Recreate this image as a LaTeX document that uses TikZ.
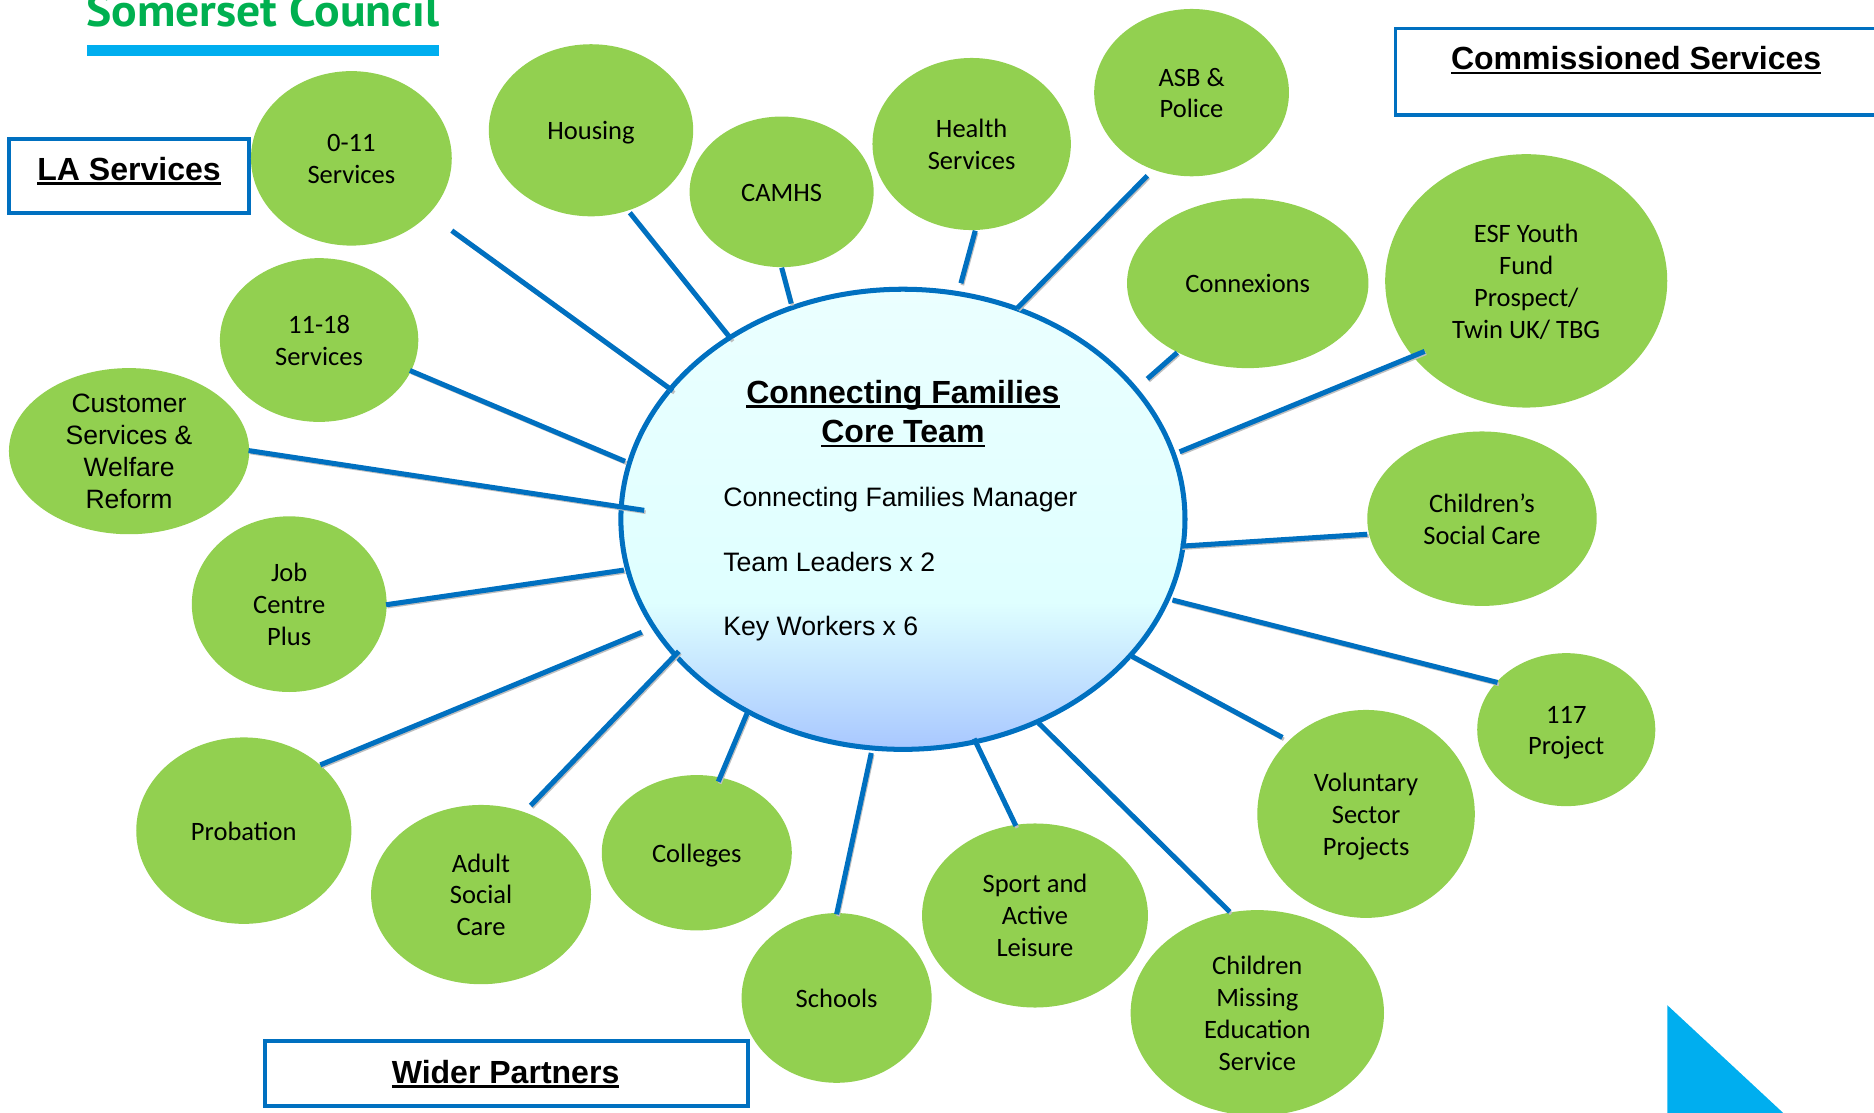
\documentclass[tikz,border=0pt]{standalone}
\usepackage{fontspec}
\setmainfont{Liberation Sans}
\newfontfamily\carlito{Carlito}
\newfontfamily\logofont[FakeStretch=1.05]{PT Sans}
\usetikzlibrary{shapes.geometric}
\definecolor{lineblue}{HTML}{0070C0}
\definecolor{leaf}{HTML}{92D050}
\definecolor{logogreen}{HTML}{00B050}
\definecolor{cyanbar}{HTML}{00AEEF}
\definecolor{coreA}{HTML}{A8C7FF}
\definecolor{coreB}{HTML}{DFFFFF}
\definecolor{coreC}{HTML}{EBFFFF}
\pgfdeclareverticalshading{corefill}{100bp}{color(0bp)=(coreA);color(25bp)=(coreA);color(41bp)=(coreB);color(75bp)=(coreC);color(100bp)=(coreC)}
\newcommand{\myul}[1]{\leavevmode\setbox0=\hbox{#1}\rlap{\rule[-.14em]{\wd0}{.08em}}\box0 }
\newcommand{\bt}[2][7.7pt]{\raisebox{-#1}[0pt][0pt]{\begin{tabular}{@{}c@{}}#2\end{tabular}}}
\tikzset{
  bub/.style n args={2}{ellipse,fill=leaf,inner sep=0pt,outer sep=0pt,minimum width=#1pt,minimum height=#2pt,text=black,font=\carlito\fontsize{22.2}{26.7}\selectfont},
  frame/.style={draw=lineblue,line width=3pt,fill=white},
  heading/.style={font=\bfseries\fontsize{26.8}{32}\selectfont,inner sep=0pt,align=center},
  corerow/.style={font=\fontsize{22.3}{26}\selectfont,inner sep=0pt,anchor=base west},
  conn/.style={draw=lineblue,line width=4.2pt,preaction={draw=black!25,line width=3pt,transform canvas={xshift=1.2pt,yshift=-1.6pt}}}
}
\begin{document}
\begin{tikzpicture}[x=1pt,y=-1pt]
\useasboundingbox (0,0) rectangle (1568,931.2);
% logo
\node[inner sep=0pt,anchor=base west,text=logogreen] (logo) at (72,22.3) {\logofont\bfseries\fontsize{38}{38}\selectfont Somerset Council};
\fill[cyanbar] (72.5,38) rectangle (367,46.6);
\fill[cyanbar] (1395,841) -- (1492,931.2) -- (1395,931.2) -- cycle;
% boxes
\draw[frame] (7.5,116.5) rectangle (208.5,178);
\node[heading] (la) at (108,143) {\myul{LA Services}};
\draw[frame] (1167.5,24) rectangle (1580,96);
\node[heading] (cs) at (1369,50.5) {\myul{Commissioned Services}};
\draw[frame] (221.5,871) rectangle (626,925.5);
\node[heading] (wp) at (423,898.5) {\myul{Wider Partners}};
% core
\node[ellipse,draw=lineblue,line width=4.2pt,shading=corefill,inner sep=0pt,outer sep=0pt,minimum width=472pt,minimum height=385pt] (core) at (755.5,434.5) {};
\node[heading] (t1) at (755.5,330.5) {\myul{Connecting Families}};
\node[heading] (t2) at (755.5,363) {\myul{Core Team}};
\node[corerow] (r1) at (605,424) {Connecting Families Manager};
\node[corerow] (r2) at (605,478) {Team Leaders x 2};
\node[corerow] (r3) at (605,531.5) {Key Workers x 6};
% bubbles
\node[bub={168}{146}] (n011) at (294,132.5) {\bt{0-11\\Services}};
\node[bub={171}{144}] (house) at (494.5,109) {\bt{Housing}};
\node[bub={154}{126}] (camhs) at (654,160.5) {\bt{CAMHS}};
\node[bub={166}{144}] (health) at (813,120.5) {\bt{Health\\Services}};
\node[bub={163}{140}] (asb) at (997,77.5) {\bt{ASB \&\\Police}};
\node[bub={202}{142}] (conx) at (1044,237) {\bt{Connexions}};
\node[bub={236}{212}] (esf) at (1277,235) {\bt{ESF Youth\\Fund\\Prospect/\\Twin UK/ TBG}};
\node[bub={192}{146}] (csc) at (1240,434) {\bt{Children’s\\Social Care}};
\node[bub={149}{128}] (p117) at (1310.5,610.5) {\bt{117\\Project}};
\node[bub={182}{174}] (vol) at (1143,681) {\bt{Voluntary\\Sector\\Projects}};
\node[bub={212}{172}] (cme) at (1052,847.5) {\bt{Children\\Missing\\Education\\Service}};
\node[bub={189}{154}] (sport) at (866,766) {\bt{Sport and\\Active\\Leisure}};
\node[bub={159}{142}] (school) at (700,835) {\bt{Schools}};
\node[bub={159}{130}] (coll) at (583,713.5) {\bt{Colleges}};
\node[bub={184}{150}] (adult) at (402.5,748.5) {\bt{Adult\\Social\\Care}};
\node[bub={180}{156}] (prob) at (204,695) {\bt{Probation}};
\node[bub={163}{147}] (job) at (242,505.5) {\bt{Job\\Centre\\Plus}};
\node[bub={201}{139},font=\fontsize{22.2}{26.7}\selectfont] (cust) at (108,377.5) {\bt[7.5pt]{Customer\\Services \&\\Welfare\\Reform}};
\node[bub={166}{137}] (n1118) at (267,284.5) {\bt{11-18\\Services}};
% connector ends
\foreach \nm/\ax/\ay/\bx/\by in {
 n011/378/193/563/327, house/527/178/612/284, camhs/654/224/662/254,
 health/816/193/804/237, asb/960/147/851/258, conx/985/295/960/317,
 esf/1192/294/987/378, csc/1144/447/988/457, p117/1253/571/981/502,
 vol/1073/617/945/548, cme/1029/763/869/605, sport/850/691/815/618,
 school/700/765/729/630, coll/601/654/625/597, adult/444/674/568/545,
 prob/268/640/537/529, job/323/506/522/477, cust/208/377/539/427,
 n1118/343/310/523/386}{
  \coordinate (\nm-out) at (\ax,\ay);
  \coordinate (\nm-in) at (\bx,\by);
  \draw[conn] (\nm-out) -- (\nm-in);
}
\end{tikzpicture}
\end{document}
